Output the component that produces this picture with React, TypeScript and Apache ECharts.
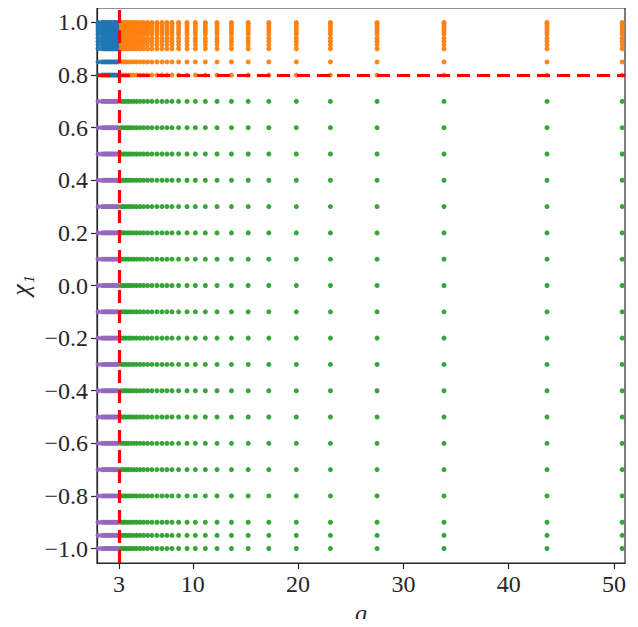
import React, { useEffect, useRef } from "react";
import * as echarts from "echarts";

// mass ratios below / at the q = 3 split
const qLow = [1.0, 1.37, 1.56, 1.73, 1.9, 2.06, 2.22, 2.39, 2.56, 2.74, 2.92];
// mass ratios above q = 3
const qHigh = [
  3.21, 3.42, 3.64, 3.88, 4.13, 4.4, 4.68, 4.99, 5.33, 5.7, 6.11, 6.59, 7.07, 7.54,
  8.02, 8.65, 9.45, 10.24, 11.19, 12.3, 13.67, 15.26, 17.22, 19.83, 23.07, 27.5,
  33.86, 43.64, 50.78,
];
// spin values at or above chi = 0.8
const chiHigh = [0.8, 0.85, 0.9, 0.915, 0.928, 0.94, 0.955, 0.965, 0.975, 0.985, 0.995, 1.0];
// spin values below chi = 0.8
const chiLow = [
  0.7, 0.6, 0.5, 0.4, 0.3, 0.2, 0.1, 0.0, -0.1, -0.2, -0.3, -0.4, -0.5, -0.6, -0.7,
  -0.8, -0.9, -0.95, -1.0,
];
const xTicks = [3, 10, 20, 30, 40, 50];
const yTicks = [-1.0, -0.8, -0.6, -0.4, -0.2, 0.0, 0.2, 0.4, 0.6, 0.8, 1.0];
const qCut = 3;
const chiCut = 0.8;

const FONT = "'Liberation Serif', 'DejaVu Serif', serif";

function grid(qs: number[], chis: number[]) {
  const out: number[][] = [];
  for (const q of qs) for (const c of chis) out.push([q, c]);
  return out;
}

export default function App() {
  const ref = useRef<HTMLDivElement>(null);
  useEffect(() => {
    if (!ref.current) return;
    const chart = echarts.init(ref.current, null, { renderer: "svg" });
    const scatter = (data: number[][], color: string) => ({
      type: "scatter",
      data,
      symbolSize: 5,
      itemStyle: { color, opacity: 0.95 },
      silent: true,
    });
    chart.setOption({
      animation: false,
      textStyle: { fontFamily: FONT },
      grid: {
        left: 97,
        right: 13,
        top: 8,
        bottom: 64,
        containLabel: false,
        outerBoundsMode: "none",
        show: true,
        borderColor: "#262626",
        borderWidth: 1.2,
        backgroundColor: "transparent",
      },
      xAxis: {
        type: "value",
        min: 0.9,
        max: 51.05,
        name: "q",
        nameLocation: "middle",
        nameGap: 36,
        nameTextStyle: { fontFamily: FONT, fontSize: 24, fontStyle: "italic", color: "#262626", lineHeight: 24 },
        splitLine: { show: false },
        axisLine: { show: true, onZero: false, lineStyle: { color: "#262626", width: 1.2 } },
        axisTick: { show: true, length: 6, customValues: xTicks, lineStyle: { color: "#262626", width: 1.2 } },
        axisLabel: {
          customValues: xTicks,
          margin: 9,
          fontFamily: FONT,
          fontSize: 24,
          color: "#262626",
          formatter: (v: number) => String(v),
        },
      },
      yAxis: {
        type: "value",
        min: -1.055,
        max: 1.055,
        name: "χ₁",
        nameLocation: "middle",
        nameRotate: 90,
        nameGap: 62,
        nameTextStyle: { fontFamily: FONT, fontSize: 26, fontStyle: "italic", color: "#262626", lineHeight: 26 },
        splitLine: { show: false },
        axisLine: { show: true, onZero: false, lineStyle: { color: "#262626", width: 1.2 } },
        axisTick: { show: true, length: 6, customValues: yTicks, lineStyle: { color: "#262626", width: 1.2 } },
        axisLabel: {
          customValues: yTicks,
          margin: 9,
          fontFamily: FONT,
          fontSize: 24,
          color: "#262626",
          formatter: (v: number) => {
            const s = Math.abs(v).toFixed(1);
            return v < -1e-9 ? "−" + s : s;
          },
        },
      },
      series: [
        scatter(grid(qLow, chiLow), "#9467bd"),
        scatter(grid(qHigh, chiLow), "#2ca02c"),
        scatter(grid(qLow, chiHigh), "#1f77b4"),
        scatter(grid(qHigh, chiHigh), "#ff7f0e"),
        {
          type: "line",
          data: [],
          z: 10,
          markLine: {
            silent: true,
            symbol: "none",
            label: { show: false },
            lineStyle: { color: "#ff0000", width: 3.2, type: [13, 7] },
            data: [{ xAxis: qCut }, { yAxis: chiCut }],
          },
        },
      ],
    });
    return () => chart.dispose();
  }, []);
  return <div ref={ref} style={{ width: 638, height: 627, margin: -8 }} />;
}
